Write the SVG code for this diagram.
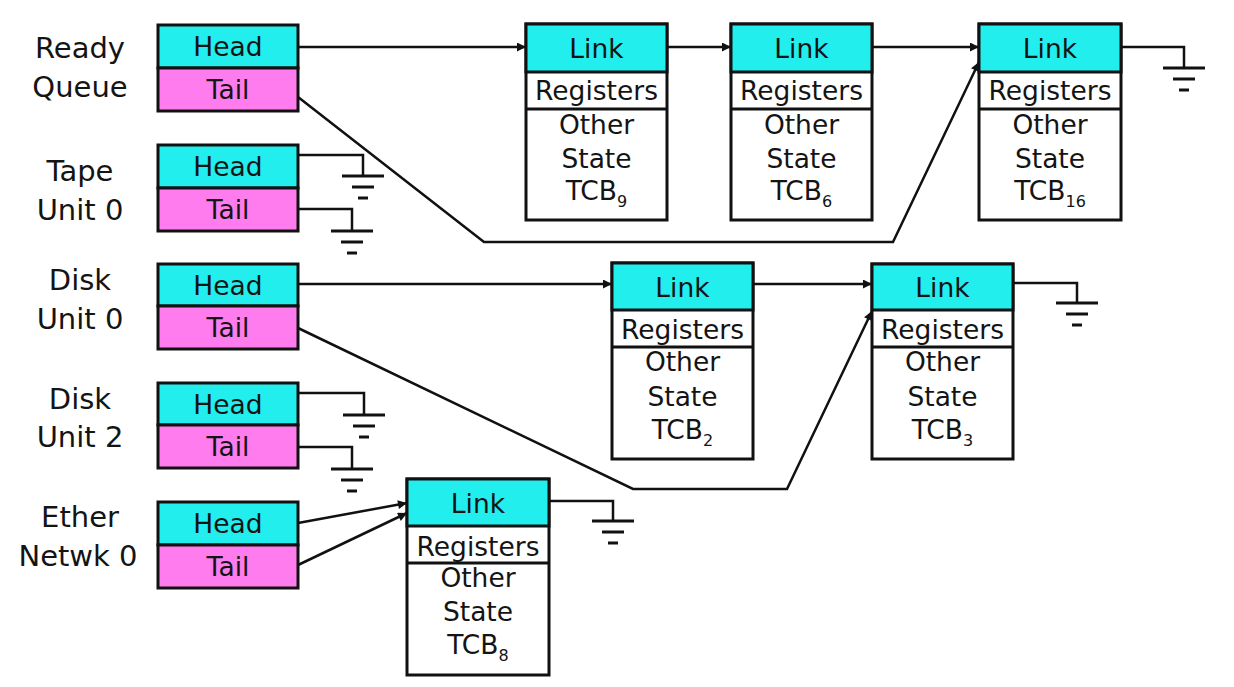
<svg xmlns="http://www.w3.org/2000/svg" width="1234" height="687" viewBox="0 0 1234 687">
<style>
.t{font-family:"DejaVu Sans","Noto Sans",sans-serif;font-size:26.5px;fill:#141414;text-anchor:middle}
.lab{font-family:"DejaVu Sans","Noto Sans",sans-serif;font-size:29px;fill:#141414;text-anchor:middle}
.sub{font-size:16px}
.hd{fill:#22EEEE;stroke:#111;stroke-width:3}
.tl{fill:#FF7CEE;stroke:#111;stroke-width:3}
.wh{fill:#fff;stroke:#111;stroke-width:3}
.w{fill:none;stroke:#111;stroke-width:2.5}
.a{fill:none;stroke:#111;stroke-width:2.5;marker-end:url(#arr)}
.g{stroke:#111;stroke-width:3}
</style>
<defs>
<marker id="arr" viewBox="0 0 10 10" refX="10" refY="5" markerWidth="4.5" markerHeight="3.6" orient="auto" markerUnits="strokeWidth">
<path d="M0,0 L10,5 L0,10 z" fill="#111"/>
</marker>
<g id="gnd" class="g">
<line x1="-21" y1="0" x2="21" y2="0"/>
<line x1="-11" y1="11" x2="11" y2="11"/>
<line x1="-5" y1="22" x2="5" y2="22"/>
</g>
</defs>
<rect width="1234" height="687" fill="#fff"/>

<g id="ready-queue">
<text class="lab" x="80" y="58">Ready</text>
<text class="lab" x="80" y="97">Queue</text>
<rect class="hd" x="158" y="25" width="140" height="43"/>
<rect class="tl" x="158" y="68" width="140" height="43"/>
<text class="t" x="228" y="56">Head</text>
<text class="t" x="228" y="99">Tail</text>
</g>

<g id="tape-unit-0">
<text class="lab" x="80" y="181">Tape</text>
<text class="lab" x="80" y="220">Unit 0</text>
<rect class="hd" x="158" y="145" width="140" height="43"/>
<rect class="tl" x="158" y="188" width="140" height="43"/>
<text class="t" x="228" y="176">Head</text>
<text class="t" x="228" y="219">Tail</text>
</g>

<g id="disk-unit-0">
<text class="lab" x="80" y="290">Disk</text>
<text class="lab" x="80" y="329">Unit 0</text>
<rect class="hd" x="158" y="264" width="140" height="42"/>
<rect class="tl" x="158" y="306" width="140" height="43"/>
<text class="t" x="228" y="295">Head</text>
<text class="t" x="228" y="337">Tail</text>
</g>

<g id="disk-unit-2">
<text class="lab" x="80" y="409">Disk</text>
<text class="lab" x="80" y="447">Unit 2</text>
<rect class="hd" x="158" y="383" width="140" height="42"/>
<rect class="tl" x="158" y="425" width="140" height="43"/>
<text class="t" x="228" y="414">Head</text>
<text class="t" x="228" y="456">Tail</text>
</g>

<g id="ether-netwk-0">
<text class="lab" x="80" y="527">Ether</text>
<text class="lab" x="78" y="566">Netwk 0</text>
<rect class="hd" x="158" y="502" width="140" height="43"/>
<rect class="tl" x="158" y="545" width="140" height="43"/>
<text class="t" x="228" y="533">Head</text>
<text class="t" x="228" y="576">Tail</text>
</g>

<g id="tcb9">
<rect class="wh" x="526" y="24" width="141" height="196"/>
<rect class="hd" x="526" y="24" width="141" height="48"/>
<line class="g" x1="526" y1="109" x2="667" y2="109"/>
<text class="t" x="596.5" y="58">Link</text>
<text class="t" x="596.5" y="100">Registers</text>
<text class="t" x="596.5" y="134">Other</text>
<text class="t" x="596.5" y="168">State</text>
<text class="t" x="596.5" y="200">TCB<tspan class="sub" dy="7">9</tspan></text>
</g>

<g id="tcb6">
<rect class="wh" x="731" y="24" width="141" height="196"/>
<rect class="hd" x="731" y="24" width="141" height="48"/>
<line class="g" x1="731" y1="109" x2="872" y2="109"/>
<text class="t" x="801.5" y="58">Link</text>
<text class="t" x="801.5" y="100">Registers</text>
<text class="t" x="801.5" y="134">Other</text>
<text class="t" x="801.5" y="168">State</text>
<text class="t" x="801.5" y="200">TCB<tspan class="sub" dy="7">6</tspan></text>
</g>

<g id="tcb16">
<rect class="wh" x="979" y="24" width="142" height="196"/>
<rect class="hd" x="979" y="24" width="142" height="48"/>
<line class="g" x1="979" y1="109" x2="1121" y2="109"/>
<text class="t" x="1050" y="58">Link</text>
<text class="t" x="1050" y="100">Registers</text>
<text class="t" x="1050" y="134">Other</text>
<text class="t" x="1050" y="168">State</text>
<text class="t" x="1050" y="200">TCB<tspan class="sub" dy="7">16</tspan></text>
</g>

<g id="tcb2">
<rect class="wh" x="612" y="263" width="141" height="196"/>
<rect class="hd" x="612" y="263" width="141" height="47"/>
<line class="g" x1="612" y1="347" x2="753" y2="347"/>
<text class="t" x="682.5" y="297">Link</text>
<text class="t" x="682.5" y="339">Registers</text>
<text class="t" x="682.5" y="371">Other</text>
<text class="t" x="682.5" y="406">State</text>
<text class="t" x="682.5" y="439">TCB<tspan class="sub" dy="7">2</tspan></text>
</g>

<g id="tcb3">
<rect class="wh" x="872" y="264" width="141" height="195"/>
<rect class="hd" x="872" y="264" width="141" height="46"/>
<line class="g" x1="872" y1="347" x2="1013" y2="347"/>
<text class="t" x="942.5" y="297">Link</text>
<text class="t" x="942.5" y="339">Registers</text>
<text class="t" x="942.5" y="371">Other</text>
<text class="t" x="942.5" y="406">State</text>
<text class="t" x="942.5" y="439">TCB<tspan class="sub" dy="7">3</tspan></text>
</g>

<g id="tcb8">
<rect class="wh" x="407" y="479" width="142" height="196"/>
<rect class="hd" x="407" y="479" width="142" height="47"/>
<line class="g" x1="407" y1="563" x2="549" y2="563"/>
<text class="t" x="478" y="513">Link</text>
<text class="t" x="478" y="556">Registers</text>
<text class="t" x="478" y="587">Other</text>
<text class="t" x="478" y="621">State</text>
<text class="t" x="478" y="654">TCB<tspan class="sub" dy="7">8</tspan></text>
</g>

<g id="connectors">
<line class="a" x1="298" y1="47" x2="526" y2="47"/>
<line class="a" x1="667" y1="47" x2="731" y2="47"/>
<line class="a" x1="872" y1="47" x2="979" y2="47"/>
<polyline class="a" points="298,97 484,242 893,242 979,62"/>
<line class="a" x1="298" y1="284" x2="612" y2="284"/>
<line class="a" x1="753" y1="284" x2="872" y2="284"/>
<polyline class="a" points="298,328 633,489 787,489 872,311"/>
<line class="a" x1="298" y1="523" x2="407" y2="503"/>
<line class="a" x1="298" y1="565" x2="407" y2="513"/>
</g>

<g id="grounds">
<polyline class="w" points="298,155 363,155 363,176"/>
<use href="#gnd" x="363" y="176"/>
<polyline class="w" points="298,209 352,209 352,231"/>
<use href="#gnd" x="352" y="231"/>
<polyline class="w" points="298,393 364,393 364,415"/>
<use href="#gnd" x="364" y="415"/>
<polyline class="w" points="298,447 352,447 352,469"/>
<use href="#gnd" x="352" y="469"/>
<polyline class="w" points="1121,47 1184,47 1184,68"/>
<use href="#gnd" x="1184" y="68"/>
<polyline class="w" points="1013,283 1077,283 1077,303"/>
<use href="#gnd" x="1077" y="303"/>
<polyline class="w" points="549,501 613,501 613,521"/>
<use href="#gnd" x="613" y="521"/>
</g>
</svg>
